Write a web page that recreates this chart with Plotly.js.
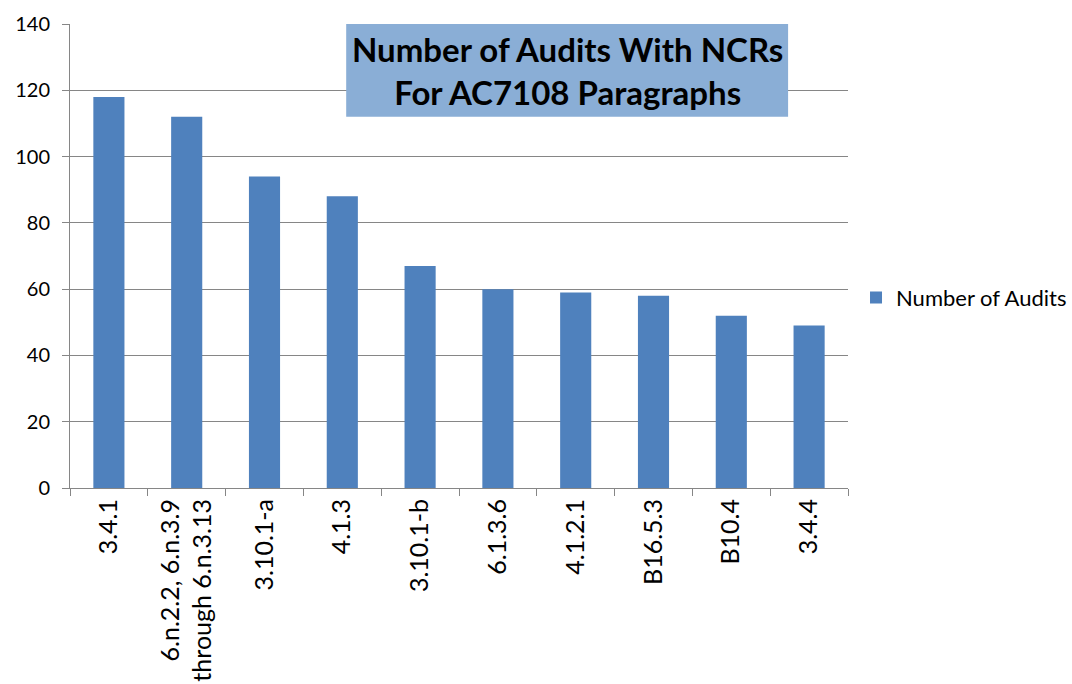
<!DOCTYPE html>
<html>
<head>
<meta charset="utf-8">
<script src="https://cdn.plot.ly/plotly-3.0.1.min.js"></script>
<style>html,body{margin:0;padding:0;background:#fff;}#chart{width:1072px;height:684px;}</style>
</head>
<body>
<div id="chart"></div>
<script>
const categories = ["3.4.1", "6.n.2.2, 6.n.3.9<br>through 6.n.3.13", "3.10.1-a", "4.1.3", "3.10.1-b", "6.1.3.6", "4.1.2.1", "B16.5.3", "B10.4", "3.4.4"];
const audits = [118, 112, 94, 88, 67, 60, 59, 58, 52, 49];
const seriesName = "Number of Audits";
const titleLines = ["Number of Audits With NCRs", "For AC7108 Paragraphs"];

const FONT = "Lato, 'Open Sans', sans-serif";
const GRID = "#868686";

const data = [{
  type: "bar",
  x: categories,
  y: audits,
  name: seriesName,
  marker: {color: "#4F81BD"},
  showlegend: true
}];

const layout = {
  width: 1072, height: 684,
  margin: {l: 70, r: 224, t: 24, b: 196, autoexpand: false},
  paper_bgcolor: "#fff", plot_bgcolor: "#fff",
  font: {family: FONT, color: "#000", size: 20},
  bargap: 0.6,
  showlegend: true,
  legend: {x: 1.0103, y: 0.41, xanchor: "left", yanchor: "middle", font: {size: 22, family: FONT}, bgcolor: "rgba(0,0,0,0)"},
  xaxis: {
    type: "category",
    tickangle: -90,
    tickfont: {size: 25, family: FONT},
    ticks: "outside", ticklen: 7, tickcolor: GRID, tickson: "boundaries",
    showline: true, linecolor: GRID, linewidth: 1,
    showgrid: false, zeroline: false, automargin: false
  },
  yaxis: {
    range: [0, 140], dtick: 20,
    tickfont: {size: 20, family: FONT},
    ticks: "outside", ticklen: 7, tickcolor: GRID,
    ticklabelstandoff: 8,
    showline: true, linecolor: GRID, linewidth: 1,
    showgrid: true, gridcolor: GRID, gridwidth: 1,
    zeroline: false, automargin: false
  },
  shapes: [{
    type: "rect", xref: "paper", yref: "paper",
    x0: 0.355, x1: 0.923, y0: 0.80, y1: 1.0,
    fillcolor: "#8AAED6", line: {width: 0}, layer: "above"
  }],
  annotations: [{
    xref: "paper", yref: "paper", x: 0.639, y: 0.90,
    xanchor: "center", yanchor: "middle",
    text: "<b>" + titleLines.join("<br>") + "</b>",
    showarrow: false,
    font: {size: 33, family: FONT, color: "#000"}
  }]
};

Plotly.newPlot("chart", data, layout, {displayModeBar: false, staticPlot: true});
</script>
</body>
</html>
